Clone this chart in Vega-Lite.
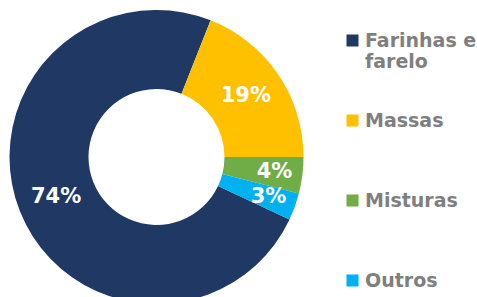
{
  "$schema": "https://vega.github.io/schema/vega-lite/v6.json",
  "width": 313,
  "height": 280,
  "padding": {"left": 0, "top": 10, "right": 0, "bottom": 0},
  "background": "white",
  "view": {"stroke": null},
  "data": {
    "values": [
      {"categoria": "Farinhas e farelo", "pct": 0.74},
      {"categoria": "Massas", "pct": 0.19},
      {"categoria": "Misturas", "pct": 0.04},
      {"categoria": "Outros", "pct": 0.03}
    ]
  },
  "layer": [
    {
      "mark": {"type": "arc", "innerRadius": 68, "outerRadius": 147},
      "encoding": {
        "theta": {"field": "pct", "type": "quantitative", "stack": true, "scale": {"range": [2.0106, 8.2938]}},
        "order": {"field": "categoria", "type": "ordinal", "sort": "ascending"},
        "color": {
          "field": "categoria",
          "type": "nominal",
          "scale": {
            "domain": ["Farinhas e farelo", "Massas", "Misturas", "Outros"],
            "range": ["#203864", "#FFC000", "#70AD47", "#00B0F0"]
          },
          "legend": {
            "title": null,
            "orient": "none",
            "legendX": 343,
            "legendY": 14,
            "symbolType": "square",
            "symbolSize": 144,
            "symbolStrokeWidth": 0,
            "labelFont": "DejaVu Sans",
            "labelFontWeight": "bold",
            "labelFontSize": 19,
            "labelColor": "#7F7F7F",
            "labelOffset": 3,
            "labelLimit": 200,
            "rowPadding": 39,
            "labelExpr": "datum.label == 'Farinhas e farelo' ? ['Farinhas e', 'farelo'] : [datum.label, ' ']"
          }
        }
      }
    },
    {
      "mark": {
        "type": "text",
        "radius": {"expr": "datum.pct < 0.05 ? 119 : 108"},
        "font": "DejaVu Sans",
        "fontWeight": "bold",
        "fontSize": 21,
        "fill": "white"
      },
      "encoding": {
        "theta": {"field": "pct", "type": "quantitative", "stack": true, "scale": {"range": [2.0106, 8.2938]}},
        "order": {"field": "categoria", "type": "ordinal", "sort": "ascending"},
        "detail": {"field": "categoria", "type": "nominal"},
        "text": {"field": "pct", "type": "quantitative", "format": ".0%"}
      }
    }
  ]
}
